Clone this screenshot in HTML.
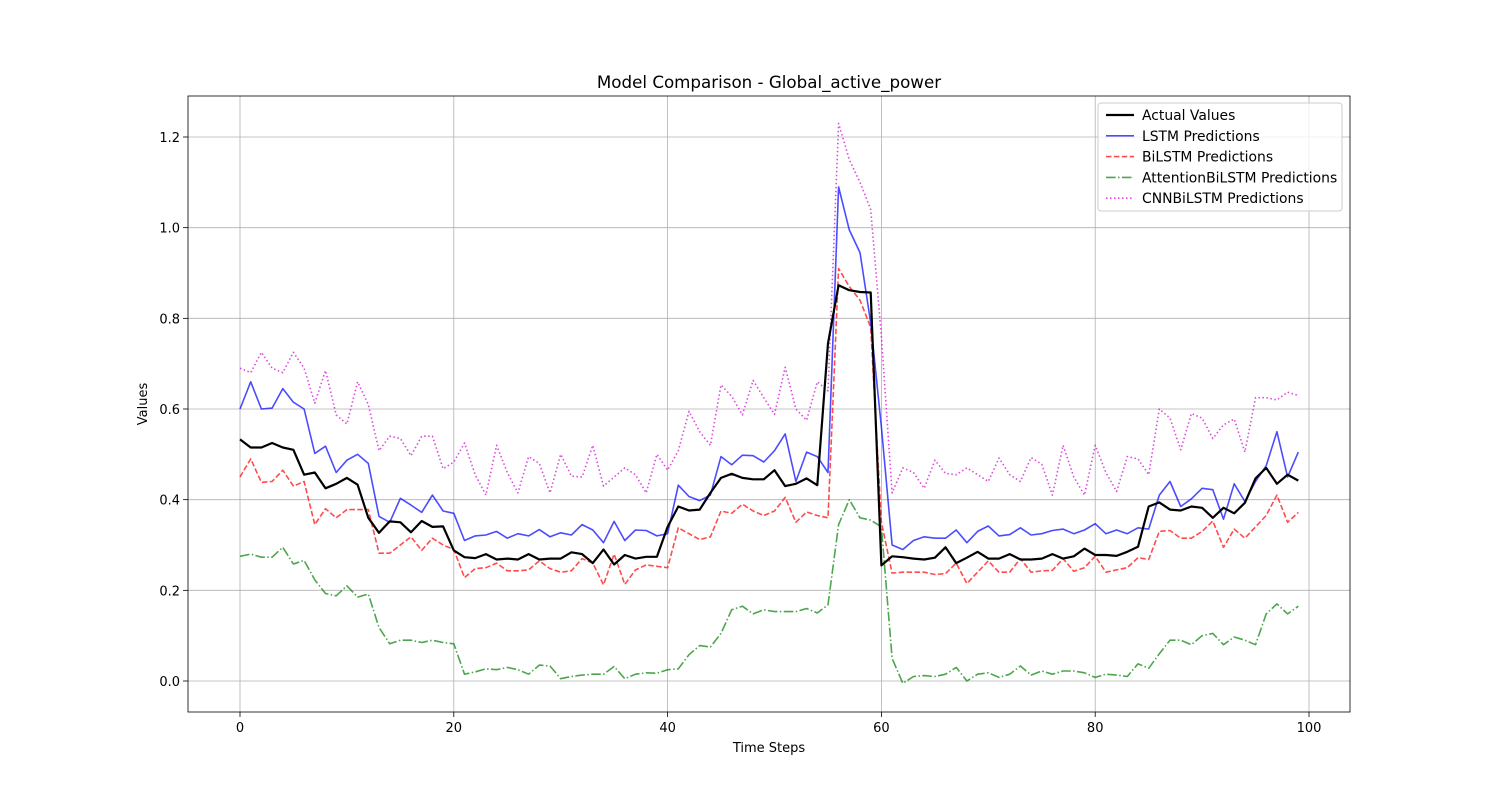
<!DOCTYPE html>
<html><head><meta charset="utf-8"><style>
body{margin:0;background:#fff;font-family:"Liberation Sans","DejaVu Sans",sans-serif}
svg text{font-family:"DejaVu Sans","Liberation Sans",sans-serif}
</style></head><body>
<svg id="chart" width="1500" height="800" viewBox="0 0 1500 800">
<rect width="1500" height="800" fill="#fff"/>
<g id="grid"></g><g id="series"></g><g id="axes"></g><g id="legend"></g>
</svg>
<script>
const xTicks=[0,20,40,60,80,100];
const yTicks=[0.0,0.2,0.4,0.6,0.8,1.0,1.2];
const actual=[0.533,0.515,0.515,0.525,0.515,0.51,0.455,0.46,0.425,0.435,0.448,0.433,0.36,0.327,0.352,0.35,0.328,0.353,0.34,0.341,0.288,0.273,0.271,0.28,0.268,0.27,0.268,0.28,0.268,0.27,0.27,0.284,0.28,0.26,0.29,0.257,0.278,0.27,0.274,0.274,0.34,0.385,0.376,0.378,0.415,0.448,0.457,0.448,0.445,0.445,0.465,0.43,0.435,0.447,0.432,0.745,0.873,0.862,0.858,0.857,0.255,0.275,0.273,0.27,0.268,0.272,0.295,0.26,0.272,0.285,0.27,0.27,0.28,0.268,0.268,0.27,0.28,0.27,0.275,0.292,0.278,0.278,0.276,0.285,0.296,0.385,0.394,0.378,0.376,0.385,0.382,0.36,0.382,0.37,0.393,0.447,0.47,0.435,0.455,0.442];
const lstm=[0.60,0.66,0.60,0.602,0.645,0.615,0.60,0.502,0.518,0.46,0.487,0.50,0.48,0.363,0.35,0.403,0.388,0.372,0.41,0.375,0.37,0.31,0.32,0.322,0.33,0.315,0.325,0.32,0.334,0.318,0.327,0.322,0.345,0.333,0.305,0.352,0.31,0.333,0.332,0.32,0.325,0.432,0.407,0.398,0.41,0.495,0.477,0.498,0.497,0.483,0.508,0.545,0.44,0.505,0.495,0.46,1.09,0.995,0.945,0.79,0.56,0.30,0.29,0.31,0.318,0.315,0.315,0.333,0.305,0.33,0.342,0.32,0.323,0.338,0.322,0.325,0.332,0.335,0.325,0.333,0.347,0.325,0.333,0.325,0.338,0.335,0.41,0.44,0.385,0.402,0.425,0.422,0.357,0.435,0.396,0.44,0.475,0.55,0.45,0.505];
const bilstm=[0.45,0.49,0.438,0.44,0.465,0.43,0.44,0.345,0.38,0.36,0.378,0.378,0.378,0.282,0.282,0.3,0.318,0.288,0.315,0.3,0.29,0.228,0.248,0.25,0.26,0.243,0.243,0.245,0.265,0.248,0.24,0.243,0.27,0.26,0.212,0.28,0.213,0.245,0.256,0.253,0.25,0.338,0.325,0.312,0.318,0.375,0.37,0.39,0.375,0.365,0.375,0.405,0.35,0.373,0.365,0.36,0.91,0.87,0.84,0.78,0.35,0.238,0.24,0.24,0.24,0.235,0.237,0.26,0.215,0.24,0.265,0.24,0.24,0.27,0.24,0.243,0.244,0.27,0.242,0.25,0.275,0.24,0.245,0.25,0.272,0.268,0.33,0.332,0.315,0.315,0.33,0.353,0.295,0.335,0.315,0.34,0.365,0.41,0.35,0.372];
const attention=[0.275,0.28,0.273,0.273,0.295,0.258,0.266,0.223,0.193,0.188,0.21,0.185,0.192,0.118,0.082,0.09,0.09,0.085,0.09,0.085,0.082,0.015,0.02,0.027,0.025,0.03,0.025,0.015,0.035,0.033,0.005,0.01,0.013,0.015,0.015,0.032,0.005,0.015,0.018,0.017,0.025,0.027,0.058,0.078,0.075,0.105,0.157,0.165,0.148,0.157,0.153,0.153,0.153,0.16,0.15,0.168,0.345,0.4,0.36,0.355,0.34,0.05,-0.005,0.01,0.012,0.01,0.015,0.03,0,0.015,0.018,0.008,0.015,0.033,0.013,0.022,0.015,0.022,0.022,0.018,0.008,0.015,0.013,0.01,0.038,0.028,0.06,0.09,0.09,0.08,0.1,0.105,0.08,0.097,0.09,0.08,0.148,0.17,0.148,0.165];
const cnn=[0.69,0.68,0.725,0.69,0.68,0.725,0.69,0.613,0.685,0.587,0.567,0.66,0.61,0.508,0.54,0.535,0.497,0.54,0.54,0.468,0.483,0.525,0.455,0.41,0.52,0.46,0.415,0.495,0.48,0.415,0.5,0.452,0.45,0.52,0.43,0.45,0.47,0.455,0.415,0.5,0.465,0.508,0.595,0.55,0.52,0.653,0.628,0.587,0.663,0.625,0.588,0.692,0.6,0.575,0.66,0.64,1.23,1.15,1.1,1.04,0.76,0.415,0.47,0.46,0.425,0.487,0.458,0.455,0.47,0.455,0.44,0.492,0.455,0.44,0.493,0.478,0.41,0.52,0.45,0.41,0.52,0.46,0.418,0.495,0.49,0.455,0.6,0.58,0.51,0.59,0.58,0.535,0.565,0.578,0.505,0.625,0.625,0.62,0.637,0.63];

const NS='http://www.w3.org/2000/svg';
const L=188,R=1350,T=96,B=712;
const xs=v=>240+v*(1309-240)/100;
const ys=v=>681-v*(681-137)/1.2;
function mk(tag,attrs,parent){const e=document.createElementNS(NS,tag);for(const k in attrs)e.setAttribute(k,attrs[k]);parent.appendChild(e);return e;}
const grid=document.getElementById('grid'),axes=document.getElementById('axes'),ser=document.getElementById('series'),leg=document.getElementById('legend');

xTicks.forEach(t=>{const x=xs(t);
 const g=mk('line',{x1:x,x2:x,y1:T,y2:B,stroke:'#b0b0b0','stroke-width':0.8},grid);
 
 
 mk('line',{x1:x,x2:x,y1:B,y2:B+5,stroke:'#000','stroke-width':0.8},axes);
 const tx=mk('text',{x:x,y:B+20,'font-size':13,'text-anchor':'middle'},axes);tx.textContent=t;
 
 
});
yTicks.forEach(t=>{const y=ys(t);
 const g=mk('line',{x1:L,x2:R,y1:y,y2:y,stroke:'#b0b0b0','stroke-width':0.8},grid);
 
 
 mk('line',{x1:L-5,x2:L,y1:y,y2:y,stroke:'#000','stroke-width':0.8},axes);
 const tx=mk('text',{x:L-8,y:y+5,'font-size':13,'text-anchor':'end'},axes);tx.textContent=t.toFixed(1);
 
 
});
const fr=mk('rect',{x:L,y:T,width:R-L,height:B-T,fill:'none',stroke:'#000','stroke-width':0.8},axes);


let t1=mk('text',{x:769,y:88,'font-size':16.7,'text-anchor':'middle'},axes);t1.textContent='Model Comparison - Global_active_power';


let t2=mk('text',{x:769,y:752,'font-size':13,'text-anchor':'middle'},axes);t2.textContent='Time Steps';


let t3=mk('text',{x:147,y:404,'font-size':13,'text-anchor':'middle',transform:'rotate(-90 147 404)'},axes);t3.textContent='Values';



const series=[
 {d:actual,name:'Actual Values',c:'#000',w:2.2,dash:'',o:1,id:'actual-line'},
 {d:lstm,name:'LSTM Predictions',c:'#0000ff',w:1.6,dash:'',o:0.7,id:'lstm-line'},
 {d:bilstm,name:'BiLSTM Predictions',c:'#ff0000',w:1.6,dash:'5.5,2.4',o:0.7,id:'bilstm-line'},
 {d:attention,name:'AttentionBiLSTM Predictions',c:'#008000',w:1.6,dash:'9.6,2.4,1.5,2.4',o:0.7,id:'attention-bilstm-line'},
 {d:cnn,name:'CNNBiLSTM Predictions',c:'#cc00cc',w:1.6,dash:'1.5,2.5',o:0.7,id:'cnn-bilstm-line'}
];
const order=[4,3,2,1,0];
order.forEach(i=>{const s=series[i];
 const pts=s.d.map((v,j)=>xs(j).toFixed(1)+','+ys(v).toFixed(1)).join(' ');
 const p=mk('polyline',{points:pts,fill:'none',stroke:s.c,'stroke-width':s.w,'stroke-opacity':s.o,'stroke-dasharray':s.dash,'stroke-linejoin':'round'},ser);
 
 
});
const lb=mk('rect',{x:1098,y:103,width:244,height:108,rx:3,fill:'#fff','fill-opacity':0.8,stroke:'#ccc','stroke-width':1},leg);


series.forEach((s,i)=>{const y=115+i*20.8;
 const g=mk('g',{},leg);
 
 
 mk('line',{x1:1106,x2:1134,y1:y,y2:y,stroke:s.c,'stroke-width':s.w,'stroke-opacity':s.o,'stroke-dasharray':s.dash},g);
 const tx=mk('text',{x:1142,y:y+5,'font-size':13.9},g);tx.textContent=s.name;
});
</script>
</body></html>
